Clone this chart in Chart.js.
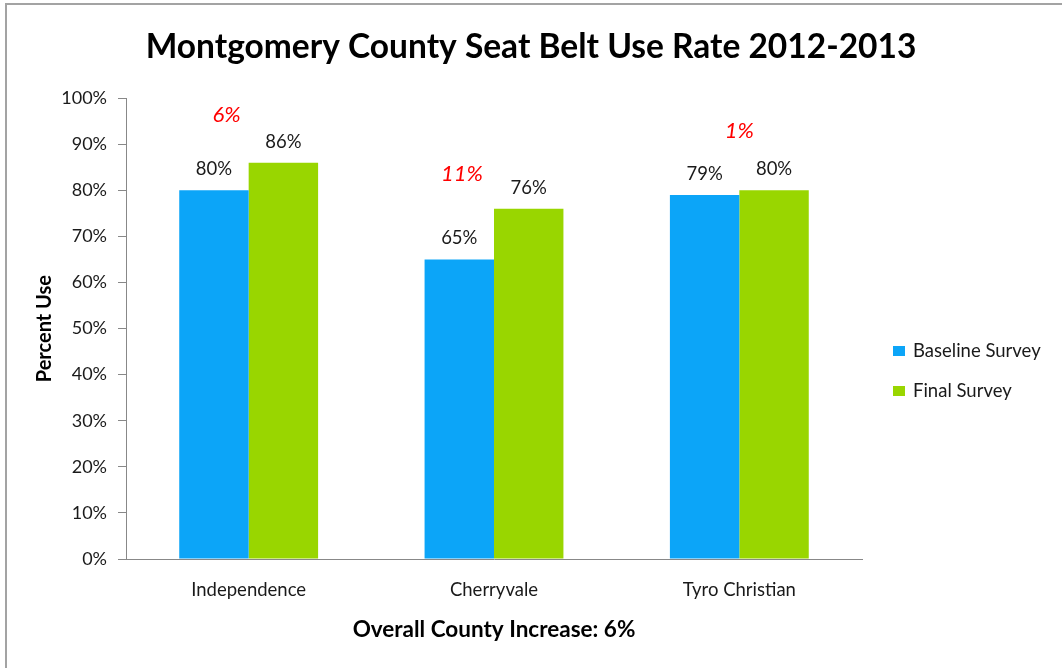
<!DOCTYPE html>
<html>
<head>
<meta charset="utf-8">
<script src="https://cdn.jsdelivr.net/npm/chart.js@4.4.1/dist/chart.umd.min.js"></script>
<style>
  body { margin: 0; background: #fff; }
  #wrap { position: relative; width: 1062px; height: 668px; overflow: hidden; }
  #frame { position: absolute; left: 5px; top: 3px; width: 1100px; height: 700px;
           border-left: 2px solid #a3a3a3; border-top: 2px solid #a3a3a3; pointer-events: none; }
  canvas { position: absolute; left: 0; top: 0; }
</style>
</head>
<body>
<div id="wrap">
  <canvas id="grafica" width="1062" height="668"></canvas>
  <div id="frame"></div>
</div>
<script>
// datos del grafico
const schools = ["Independence", "Cherryvale", "Tyro Christian"];
const baseline = [80, 65, 79];
const finalSurvey = [86, 76, 80];
const increases = [6, 11, 1];
const seriesNames = ["Baseline Survey", "Final Survey"];
const seriesColors = ["#0ca5f8", "#99d600"];

const axisGray = "#888888";
const font = "Lato, 'Open Sans', sans-serif";

// etiquetas de valor encima de cada barra
const valueLabels = {
  id: "valueLabels",
  afterDatasetsDraw(chart) {
    const ctx = chart.ctx;
    ctx.save();
    ctx.font = "18.5px " + font;
    ctx.fillStyle = "#1a1a1a";
    ctx.textAlign = "center";
    ctx.textBaseline = "middle";
    chart.data.datasets.forEach((ds, d) => {
      chart.getDatasetMeta(d).data.forEach((bar, i) => {
        ctx.fillText(ds.data[i] + "%", bar.x, bar.y - 21);
      });
    });
    ctx.restore();
  }
};

// incremento en rojo (cajas de texto puestas a mano en el original)
const increaseLabels = {
  id: "increaseLabels",
  afterDatasetsDraw(chart, args, opts) {
    const ctx = chart.ctx;
    const x = chart.scales.x, y = chart.scales.y;
    ctx.save();
    ctx.font = "italic 22px " + font;
    ctx.fillStyle = "#ff0000";
    ctx.textAlign = "center";
    ctx.textBaseline = "middle";
    increases.forEach((v, i) => {
      const top = Math.max(baseline[i], finalSurvey[i]);
      ctx.fillText(v + "%", x.getPixelForValue(i) + opts.dx[i], y.getPixelForValue(top) + opts.dy[i]);
    });
    ctx.restore();
  }
};

// leyenda a la derecha
const sideLegend = {
  id: "sideLegend",
  afterDraw(chart) {
    const ctx = chart.ctx;
    ctx.save();
    ctx.font = "18.5px " + font;
    ctx.textBaseline = "middle";
    chart.data.datasets.forEach((ds, i) => {
      const cy = 351 + i * 40;
      ctx.fillStyle = ds.backgroundColor;
      ctx.fillRect(893, cy - 5, 12, 10);
      ctx.fillStyle = "#1a1a1a";
      ctx.fillText(ds.label, 913, cy);
    });
    ctx.restore();
  }
};

const grafica = document.getElementById("grafica");
var chart = new Chart(grafica, {
  type: "bar",
  data: {
    labels: schools,
    datasets: [
      { label: seriesNames[0], backgroundColor: seriesColors[0], data: baseline },
      { label: seriesNames[1], backgroundColor: seriesColors[1], data: finalSurvey }
    ]
  },
  options: {
    responsive: false,
    animation: false,
    layout: { padding: 0 },
    datasets: { bar: { categoryPercentage: 0.566, barPercentage: 1 } },
    plugins: {
      legend: { display: false },
      tooltip: { enabled: false },
      title: {
        display: true,
        text: "Montgomery County Seat Belt Use Rate 2012-2013",
        color: "#000",
        font: { family: font, size: 33.5, weight: "bold", lineHeight: 1.2 },
        padding: { top: 27, bottom: 31 }
      },
      increaseLabels: { dx: [-22, -32, 0], dy: [-48, -35, -59] }
    },
    scales: {
      x: {
        grid: { display: false, drawTicks: false },
        border: { display: true, color: axisGray, width: 1 },
        ticks: { color: "#1a1a1a", padding: 20, font: { family: font, size: 18.5 } },
        title: {
          display: true,
          text: "Overall County Increase: 6%",
          color: "#000",
          font: { family: font, size: 22.5, weight: "bold", lineHeight: 1.2 },
          padding: { top: 0, bottom: 25 }
        },
        afterFit: s => { s.height = 109; }
      },
      y: {
        min: 0,
        max: 100,
        grid: { drawOnChartArea: false, drawTicks: true, tickLength: 8, color: axisGray },
        border: { display: true, color: axisGray, width: 1 },
        ticks: {
          stepSize: 10,
          padding: 11,
          color: "#1a1a1a",
          font: { family: font, size: 18 },
          callback: v => v + "%"
        },
        title: {
          display: true,
          text: "Percent Use",
          color: "#000",
          font: { family: font, size: 20, weight: "bold", lineHeight: 1.2 },
          padding: { top: 33, bottom: 0 }
        },
        afterFit: s => { s.width = 126; }
      },
      // eje vacio a la derecha para dejar sitio a la leyenda
      side: {
        type: "linear",
        position: "right",
        display: true,
        grid: { display: false, drawTicks: false },
        border: { display: false },
        ticks: { display: false },
        afterFit: s => { s.width = 200; }
      }
    }
  },
  plugins: [valueLabels, increaseLabels, sideLegend]
});
</script>
</body>
</html>
